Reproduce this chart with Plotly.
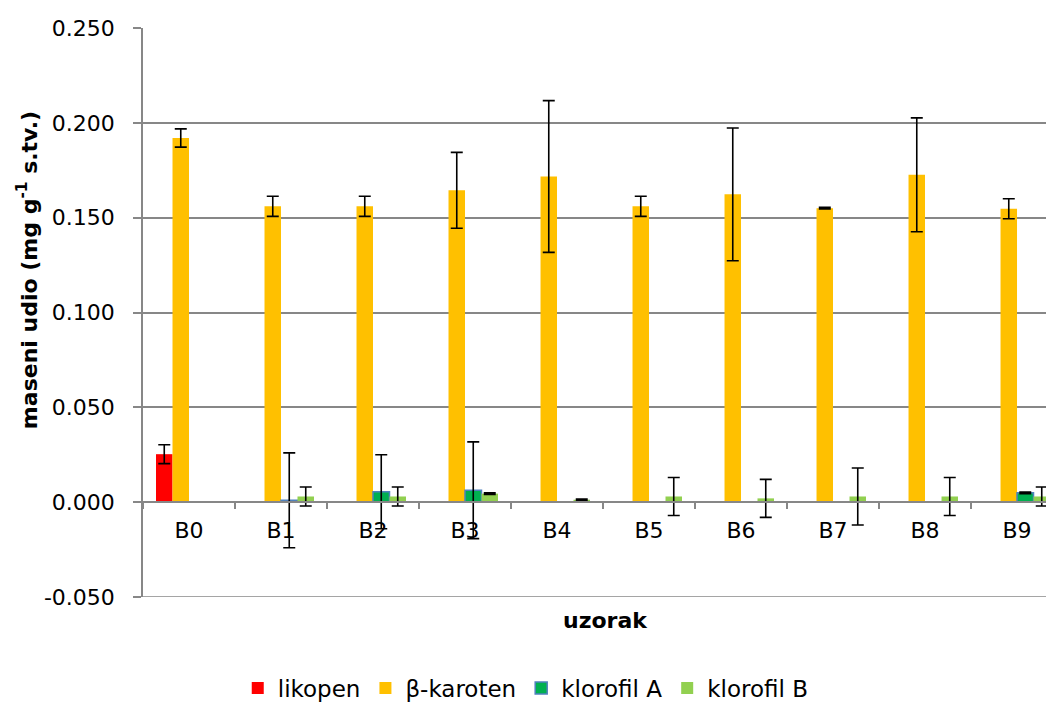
import plotly.graph_objects as go

samples = ["B0", "B1", "B2", "B3", "B4", "B5", "B6", "B7", "B8", "B9"]
series_names = ["likopen", "β-karoten", "klorofil A", "klorofil B"]

likopen = [0.0253, 0, 0, 0, 0, 0, 0, 0, 0, 0]
likopen_err = [0.005, 0, 0, 0, 0, 0, 0, 0, 0, 0]

karoten = [0.192, 0.156, 0.156, 0.1644, 0.1717, 0.156, 0.1623, 0.155, 0.1726, 0.1547]
karoten_err = [0.0048, 0.0053, 0.0053, 0.020, 0.040, 0.0053, 0.035, 0.0004, 0.030, 0.0053]

klorofil_a = [0, 0.001, 0.0055, 0.0063, 0, 0, 0, 0, 0, 0.0049]
klorofil_a_err = [0, 0.025, 0.0195, 0.0255, 0, 0, 0, 0, 0, 0.0004]

klorofil_b = [0, 0.003, 0.003, 0.0045, 0.0013, 0.003, 0.002, 0.003, 0.003, 0.003]
klorofil_b_err = [0, 0.005, 0.005, 0.0004, 0.0003, 0.010, 0.010, 0.015, 0.010, 0.005]

y_tick_values = [-0.05, 0.0, 0.05, 0.10, 0.15, 0.20, 0.25]
y_tick_labels = ["-0.050", "0.000", "0.050", "0.100", "0.150", "0.200", "0.250"]

fill_colors = ["#FF0000", "#FFC000", "#00B050", "#92D050"]
edge_colors = [None, None, "#4F81BD", None]

FONT = "DejaVu Sans"
GRAY = "#878787"

fig = go.Figure()
for name, vals, errs, fc, ec in zip(
    series_names,
    [likopen, karoten, klorofil_a, klorofil_b],
    [likopen_err, karoten_err, klorofil_a_err, klorofil_b_err],
    fill_colors, edge_colors,
):
    yv = [v if v > 0 else None for v in vals]
    marker = dict(color=fc)
    if ec:
        marker["line"] = dict(color=ec, width=1.5)
    else:
        marker["line"] = dict(width=0)
    fig.add_trace(go.Bar(
        x=samples, y=yv, name=name, marker=marker,
        error_y=dict(type="data", array=errs, visible=True,
                     color="black", thickness=1.6, width=6),
    ))

# bottom gridline at the lowest tick (plotly omits the gridline at the range edge)
fig.add_shape(type="line", xref="paper", yref="y", x0=0, x1=1,
              y0=y_tick_values[0], y1=y_tick_values[0],
              line=dict(color=GRAY, width=1.5), layer="below")

fig.update_layout(
    width=1046, height=694,
    margin=dict(l=135, r=0, t=20, b=105, autoexpand=False),
    paper_bgcolor="white", plot_bgcolor="white",
    barmode="group", bargap=0.283, bargroupgap=0,
    font=dict(family=FONT, color="black", size=22),
    showlegend=True,
    legend=dict(orientation="h", x=0.104, xanchor="left", y=-0.16, yanchor="middle",
                font=dict(family=FONT, size=23, color="black"),
                itemclick=False, tracegroupgap=0, bgcolor="rgba(0,0,0,0)"),
    xaxis=dict(
        type="category", range=[-0.5, 9.402],
        anchor="free", position=1/6,
        showline=True, linecolor=GRAY, linewidth=1.5,
        ticks="outside", tickson="boundaries", ticklen=6, tickcolor=GRAY, tickwidth=1.5,
        showgrid=False, zeroline=False,
        tickfont=dict(family=FONT, size=22, color="black"),
        ticklabelstandoff=9,
    ),
    yaxis=dict(
        range=[-0.05, 0.25], tickmode="array",
        tickvals=y_tick_values, ticktext=y_tick_labels,
        showline=True, linecolor=GRAY, linewidth=1.5,
        ticks="outside", ticklen=8, tickcolor=GRAY, tickwidth=1.5,
        showgrid=True, gridcolor=GRAY, gridwidth=1.5,
        zeroline=True, zerolinecolor=GRAY, zerolinewidth=1.5,
        tickfont=dict(family=FONT, size=22, color="black"),
        ticklabelstandoff=14,
    ),
    annotations=[
        dict(text="<b>uzorak</b>", xref="paper", yref="paper", x=0.508, y=-0.042,
             xanchor="center", yanchor="middle", showarrow=False,
             font=dict(family=FONT, size=22, color="black")),
        dict(text="<b>maseni udio (mg g<sup>-1</sup> s.tv.)</b>", xref="paper", yref="paper",
             x=-0.127, y=0.575, xanchor="center", yanchor="middle", textangle=-90,
             showarrow=False, font=dict(family=FONT, size=22, color="black")),
    ],
)

fig.write_html("out.html")
